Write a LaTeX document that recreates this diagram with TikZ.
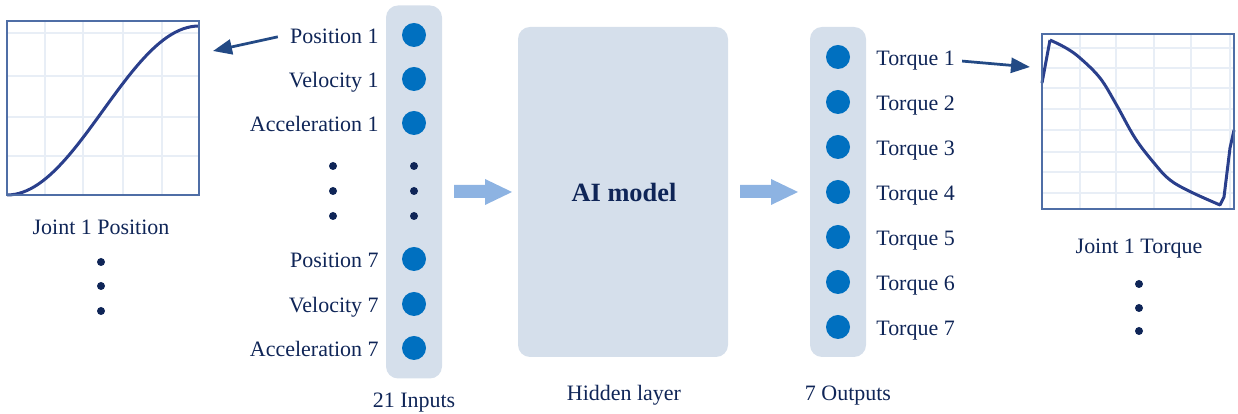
\documentclass[tikz,border=0pt]{standalone}
\usepackage{fontspec}
\setmainfont{Liberation Serif}
\usetikzlibrary{arrows.meta}

\definecolor{navy}{HTML}{0F2557}
\definecolor{neuronblue}{HTML}{0070C0}
\definecolor{colfill}{HTML}{D5DFEB}
\definecolor{flowblue}{HTML}{8DB3E2}
\definecolor{gridblue}{HTML}{E8EEF6}
\definecolor{curveblue}{HTML}{2A3F8C}
\definecolor{framecol}{HTML}{4F6EA6}
\definecolor{pointercol}{HTML}{234A85}

\tikzset{
  lbl/.style={text=navy, font=\fontsize{12.5}{15}\selectfont, inner sep=0pt},
  neuron/.style={circle, fill=neuronblue, minimum size=4.8mm, inner sep=0pt},
  smalldot/.style={circle, fill=navy, minimum size=1.6mm, inner sep=0pt},
  column/.style={rounded corners=2.4mm, fill=colfill, inner sep=0pt},
  plotbox/.style={draw=framecol, line width=0.3mm, inner sep=0pt},
  grid/.style={draw=gridblue, line width=0.3mm},
  curve/.style={draw=curveblue, line width=0.6mm, line join=round},
  pointer/.style={-{Triangle[length=3.8mm,width=3mm]}, line width=0.55mm, draw=pointercol},
}

\begin{document}
\begin{tikzpicture}[x=0.2mm,y=-0.2mm]
\useasboundingbox (0,0) rectangle (1238,414);

% joint position plot
\foreach \gx in {45,83,123,162} \draw[grid] (\gx,21) -- (\gx,195);
\foreach \gy in {33,76,117,156} \draw[grid] (7,\gy) -- (199,\gy);
\draw[curve] plot[domain=0:1, samples=50] ({7+192*\x}, {195-169*(1-cos(180*\x))/2});
\node[plotbox, minimum width=38.4mm, minimum height=34.8mm] (posplot) at (103,108) {};
\node[lbl, anchor=base] (postitle) at (101,235) {Joint 1 Position};
\foreach \y in {262,286,311} \node[smalldot] at (101,\y) {};

% input layer
\node[column, minimum width=11.2mm, minimum height=74.6mm] (incol) at (414,192) {};
\foreach \y/\txt [count=\i] in {35/Position 1, 79/Velocity 1, 123/Acceleration 1, 259/Position 7, 304/Velocity 7, 348/Acceleration 7}{
  \node[neuron] (in\i) at (414,\y) {};
  \node[lbl, anchor=base east] (inlab\i) at (379,\y+9) {\txt};
}
\foreach \y in {166,191,216}{
  \node[smalldot] at (333,\y) {};
  \node[smalldot] at (414,\y) {};
}
\node[lbl, anchor=base] (intitle) at (414,408) {21 Inputs};

% hidden layer
\node[column, minimum width=42mm, minimum height=66mm] (hidden) at (623,192) {};
\node[text=navy, font=\fontsize{15}{18}\selectfont\bfseries, anchor=base] (hidname) at (624,202) {AI model};
\node[lbl, anchor=base] (hidtitle) at (624,401) {Hidden layer};

% output layer
\node[column, minimum width=11.2mm, minimum height=66mm] (outcol) at (838,192) {};
\foreach \y [count=\i] in {57,102,147,192,237,282,327}{
  \node[neuron] (out\i) at (838,\y) {};
  \node[lbl, anchor=base west] (outlab\i) at (876,\y+9) {Torque \i};
}
\node[lbl, anchor=base] (outtitle) at (848,401) {7 Outputs};

% flow arrows between the layers
\foreach \x in {454,740}
  \fill[flowblue] (\x,185) -- (\x+31,185) -- (\x+31,179) -- (\x+58,192)
    -- (\x+31,205) -- (\x+31,198) -- (\x,198) -- cycle;

% joint torque plot
\foreach \gx in {1080,1116,1154,1191,1230} \draw[grid] (\gx,34) -- (\gx,209);
\foreach \gy in {48,68,88,109,130,152,172,193} \draw[grid] (1042,\gy) -- (1234,\gy);
\draw[curve] (1042,83) -- (1050,40)
  plot[smooth, tension=0.6] coordinates {(1050,40) (1066,48) (1080,58) (1100,78) (1116,104)
    (1135,138) (1154,163) (1170,180) (1191,192) (1220,205)}
  -- (1224,197) -- (1230,148) -- (1234,130);
\node[plotbox, minimum width=38.4mm, minimum height=35mm] (torplot) at (1138,121.5) {};
\node[lbl, anchor=base] (tortitle) at (1139,254) {Joint 1 Torque};
\foreach \y in {284,308,331} \node[smalldot] at (1139,\y) {};

% pointers to the plots
\coordinate (posin) at (213,51);
\coordinate (torin) at (1030,67);
\draw[pointer] ([xshift=-2.4mm]inlab1.west) -- (posin);
\draw[pointer] ([xshift=1.4mm]outlab1.east) -- (torin);
\end{tikzpicture}
\end{document}
